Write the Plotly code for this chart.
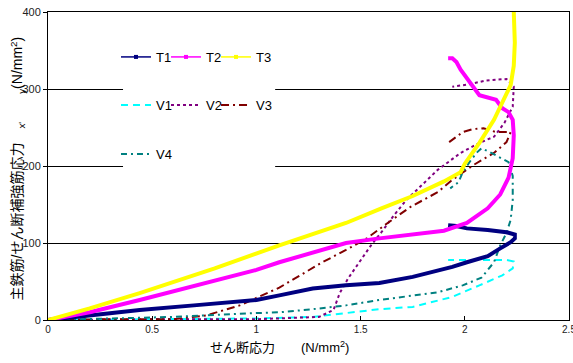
import plotly.graph_objects as go

# ---- data ----
t1_x = [0, 0.1, 0.25, 0.44, 0.7, 1.0, 1.11, 1.27, 1.43, 1.59, 1.75, 1.87, 1.94, 2.01, 2.11, 2.17, 2.22, 2.24, 2.24, 2.2, 2.11, 2.01, 1.96, 1.92]
t1_y = [0, 3, 8, 13, 19, 26, 32, 41, 45, 48, 56, 64, 69, 75, 83, 93, 101, 106, 111, 114, 117, 119, 122, 123]

t2_x = [0, 0.2, 0.44, 0.7, 1.0, 1.11, 1.27, 1.43, 1.59, 1.72, 1.8, 1.9, 2.01, 2.11, 2.17, 2.21, 2.23, 2.235, 2.23, 2.21, 2.18, 2.15, 2.07, 2.04, 2.01, 1.98, 1.96, 1.94, 1.92]
t2_y = [0, 10, 26, 44, 65, 75, 88, 100, 106, 110, 113, 116, 126, 145, 163, 185, 210, 240, 260, 270, 275, 286, 292, 303, 312, 325, 335, 340, 340]

t3_x = [0, 0.2, 0.44, 0.8, 1.11, 1.43, 1.6, 1.75, 1.9, 1.98, 2.0, 2.07, 2.14, 2.18, 2.22, 2.235, 2.24, 2.235]
t3_y = [0, 15, 35, 67, 97, 126, 145, 161, 180, 192, 203, 230, 260, 282, 305, 330, 360, 400]

v1_x = [0, 0.5, 1.0, 1.27, 1.43, 1.59, 1.75, 1.87, 1.94, 2.07, 2.18, 2.23, 2.235, 2.2, 2.05, 1.92]
v1_y = [0, 1, 2, 4, 9, 14, 17, 25, 30, 45, 58, 67, 76, 78, 78, 78]

v2_x = [0, 0.5, 1.0, 1.3, 1.37, 1.4, 1.44, 1.5, 1.55, 1.6, 1.66, 1.72, 1.8, 1.87, 1.98, 2.07, 2.14, 2.19, 2.23, 2.235, 2.2, 2.1, 2.02, 1.94]
v2_y = [0, 1, 1, 4, 13, 35, 54, 78, 97, 114, 136, 156, 177, 195, 217, 230, 238, 256, 277, 303, 313, 311, 306, 303]

v3_x = [0, 0.3, 0.6, 0.76, 0.92, 1.11, 1.21, 1.31, 1.43, 1.53, 1.63, 1.74, 1.87, 1.94, 2.04, 2.14, 2.2, 2.22, 2.15, 2.09, 2.04, 1.99, 1.96, 1.92]
v3_y = [0, 1, 1, 6, 19, 42, 58, 74, 91, 106, 126, 147, 166, 182, 201, 217, 231, 244, 244, 249, 248, 244, 238, 230]

v4_x = [0, 0.3, 0.6, 1.0, 1.11, 1.27, 1.43, 1.59, 1.75, 1.87, 1.99, 2.08, 2.14, 2.17, 2.2, 2.22, 2.23, 2.23, 2.21, 2.15, 2.12, 2.08, 2.06, 2.03, 1.99, 1.97, 1.93]
v4_y = [0, 2, 4, 9, 10, 14, 19, 26, 32, 36, 45, 55, 75, 97, 113, 130, 156, 187, 205, 214, 218, 223, 218, 208, 192, 179, 171]

x_ticks = [0, 0.5, 1, 1.5, 2, 2.5]
x_tick_labels = ["0", "0.5", "1", "1.5", "2", "2.5"]
y_ticks = [0, 100, 200, 300, 400]

FONT = "Liberation Sans, Arial, Noto Sans CJK JP, sans-serif"

fig = go.Figure()

solid = [("T1", t1_x, t1_y, "#000080"),
         ("T2", t2_x, t2_y, "#FF00FF"),
         ("T3", t3_x, t3_y, "#FFFF00")]
dashed = [("V1", v1_x, v1_y, "#00FFFF", "7px,5px"),
          ("V2", v2_x, v2_y, "#800080", "3px,3px"),
          ("V3", v3_x, v3_y, "#800000", "8px,4px,2px,4px"),
          ("V4", v4_x, v4_y, "#008080", "6px,4px,2px,4px")]

for name, xs, ys, col, dash in dashed:
    fig.add_trace(go.Scatter(x=xs, y=ys, mode="lines", name=name, showlegend=False,
                             line=dict(color=col, width=2, dash=dash)))
for name, xs, ys, col in solid:
    fig.add_trace(go.Scatter(x=xs, y=ys, mode="lines", name=name, showlegend=False,
                             line=dict(color=col, width=4)))

# legend grid: 3 columns x 3 rows, one small legend per entry
col_x = [0.1305, 0.2265, 0.3225]
row_y = [0.854, 0.698, 0.539]
legend_layout = {}
entries = [(n, c, None, True) for n, _, _, c in solid] + [(n, c, d, False) for n, _, _, c, d in dashed]
for i, (name, col, dash, is_solid) in enumerate(entries):
    key = "legend" if i == 0 else f"legend{i + 1}"
    if is_solid:
        fig.add_trace(go.Scatter(x=[None], y=[None], mode="lines+markers", name=name,
                                 legend=key, line=dict(color=col, width=1.5),
                                 marker=dict(color=col, size=4, symbol="square")))
    else:
        fig.add_trace(go.Scatter(x=[None], y=[None], mode="lines", name=name,
                                 legend=key, line=dict(color=col, width=2, dash=dash)))
    legend_layout[key] = dict(x=col_x[i % 3], y=row_y[i // 3], xanchor="left", yanchor="middle",
                              orientation="h", bgcolor="rgba(0,0,0,0)", itemclick=False,
                              font=dict(family=FONT, size=13, color="#000"))

fig.update_layout(
    width=573, height=363,
    margin=dict(l=48, r=4, t=12, b=43),
    paper_bgcolor="white", plot_bgcolor="white",
    font=dict(family=FONT, color="#000"),
    shapes=[dict(type="rect", xref="paper", yref="paper", x0=0.144, x1=0.436,
                 y0=0.495, y1=0.925, fillcolor="white", line=dict(width=0), layer="above")],
    annotations=[
        dict(text="せん断応力　　(N/mm<sup>2</sup>)", xref="paper", yref="paper",
             x=0.4434, y=-0.0877, xanchor="center", yanchor="middle", showarrow=False,
             font=dict(family=FONT, size=13, color="#000")),
        dict(text="主鉄筋/せん断補強筋応力　<sub>x'</sub>　　<sub>y</sub>(N/mm<sup>2</sup>)",
             xref="paper", yref="paper", x=-0.0576, y=0.492, xanchor="center", yanchor="middle",
             textangle=-90, showarrow=False, font=dict(family=FONT, size=14, color="#000")),
    ],
    xaxis=dict(range=[0, 2.5], tickvals=x_ticks, ticktext=x_tick_labels, automargin=False,
               ticklabeloverflow="allow",
               showgrid=False, zeroline=False, showline=True, linecolor="#000", linewidth=1,
               mirror=True, ticks="inside", ticklen=4, tickcolor="#000",
               tickfont=dict(family=FONT, size=10, color="#222")),
    yaxis=dict(range=[0, 400], tickvals=y_ticks, automargin=False,
               showgrid=True, gridcolor="#000", gridwidth=1, zeroline=False,
               showline=True, linecolor="#000", linewidth=1, mirror=True,
               ticks="outside", ticklen=4, tickcolor="#000",
               tickfont=dict(family=FONT, size=11, color="#222")),
    **legend_layout,
)

fig.write_html("out.html", config={"displayModeBar": False},
               post_script="document.body.style.margin='0';")
